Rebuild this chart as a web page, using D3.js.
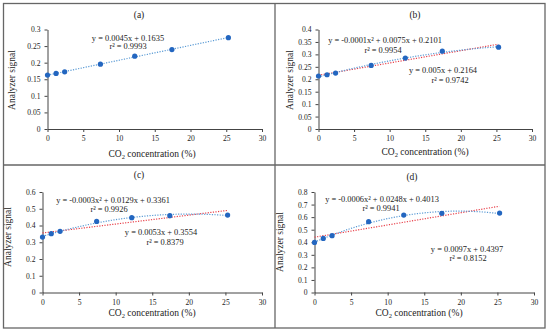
<!DOCTYPE html>
<html>
  <head>
    <meta charset="utf-8" />
    <title>Analyzer signal vs CO2</title>
    <script src="https://d3js.org/d3.v7.min.js"></script>
    <style>
      body { margin: 0; background: #fff; }
      svg text { font-family: "Liberation Serif", "DejaVu Serif", serif; fill: #222; }
    </style>
  </head>
  <body>
    <svg width="550" height="335"></svg>

    <script>
      // Data (CO2 concentration in %, analyzer signal per panel)
      var conc = [0, 1.2, 2.4, 7.4, 12.2, 17.4, 25.3];
      var signalA = [0.1625, 0.1675, 0.1725, 0.1955, 0.2195, 0.2395, 0.2755];
      var signalB = [0.213, 0.218, 0.225, 0.2555, 0.285, 0.313, 0.329];
      var signalC = [0.331, 0.351, 0.365, 0.4245, 0.4465, 0.4585, 0.4625];
      var signalD = [0.399, 0.4305, 0.452, 0.5635, 0.6165, 0.63, 0.6325];

      var xTicks = [0, 5, 10, 15, 20, 25, 30];
      var yTicksA = ["0", "0.05", "0.1", "0.15", "0.2", "0.25", "0.3"];
      var yTicksB = ["0", "0.05", "0.1", "0.15", "0.2", "0.25", "0.3", "0.35", "0.4"];
      var yTicksC = ["0", "0.1", "0.2", "0.3", "0.4", "0.5", "0.6"];
      var yTicksD = ["0", "0.1", "0.2", "0.3", "0.4", "0.5", "0.6", "0.7", "0.8"];

      var titles = ["(a)", "(b)", "(c)", "(d)"];
      var polyLabels = [null,
        ["y = -0.0001x² + 0.0075x + 0.2101", "r² = 0.9954"],
        ["y = -0.0003x² + 0.0129x + 0.3361", "r² = 0.9926"],
        ["y = -0.0006x² + 0.0248x + 0.4013", "r² = 0.9941"]];
      var linLabels = [
        ["y = 0.0045x + 0.1635", "r² = 0.9993"],
        ["y = 0.005x + 0.2164", "r² = 0.9742"],
        ["y = 0.0053x + 0.3554", "r² = 0.8379"],
        ["y = 0.0097x + 0.4397", "r² = 0.8152"]];

      var serif = "'Liberation Serif', 'DejaVu Serif', serif";
      var svg = d3.select("svg");

      // panel frames
      var frame = svg.append("g").attr("fill", "none").attr("stroke", "#666").attr("stroke-width", 1.3);
      frame.append("rect").attr("x", 3.5).attr("y", 3.5).attr("width", 541.5).attr("height", 324.5);
      frame.append("line").attr("x1", 275).attr("x2", 275).attr("y1", 3.5).attr("y2", 328);
      frame.append("line").attr("x1", 3.5).attr("x2", 545).attr("y1", 165).attr("y2", 165);

      // layout per panel
      var panels = [
        { ys: signalA, ticks: yTicksA, left: 47.5, right: 262, top: 29.5, bottom: 129,
          title: [139, 18], xl: [152, 157], yl: [12, 80], lin: [[128, 41], [128, 49]], poly: null },
        { ys: signalB, ticks: yTicksB, left: 318.5, right: 532, top: 29.5, bottom: 129,
          title: [415, 18], xl: [425, 155], yl: [290, 80], lin: [[443, 73], [450, 83]], poly: [[385, 43], [383, 53]] },
        { ys: signalC, ticks: yTicksC, left: 42.5, right: 262, top: 192, bottom: 292.5,
          title: [139, 178], xl: [152, 316], yl: [8, 237], lin: [[161, 235], [165, 245]], poly: [[113, 203], [109, 212]] },
        { ys: signalD, ticks: yTicksD, left: 314.5, right: 534, top: 192, bottom: 292.5,
          title: [412, 180], xl: [419, 316], yl: [280, 242], lin: [[467, 252], [468, 261]], poly: [[382, 202], [381, 211]] }
      ];

      // least squares fit, degree 1 or 2
      function fit(xs, ys, deg) {
        var n = deg + 1, A = [], b = [];
        for (var i = 0; i < n; i++) {
          A.push([]);
          for (var j = 0; j < n; j++) A[i].push(d3.sum(xs, function (x) { return Math.pow(x, i + j); }));
          b.push(d3.sum(xs, function (x, k) { return ys[k] * Math.pow(x, i); }));
        }
        for (var c = 0; c < n; c++) {
          for (var r = c + 1; r < n; r++) {
            var f = A[r][c] / A[c][c];
            for (var k = c; k < n; k++) A[r][k] -= f * A[c][k];
            b[r] -= f * b[c];
          }
        }
        var coef = new Array(n);
        for (var r2 = n - 1; r2 >= 0; r2--) {
          var s = b[r2];
          for (var k2 = r2 + 1; k2 < n; k2++) s -= A[r2][k2] * coef[k2];
          coef[r2] = s / A[r2][r2];
        }
        return function (x) { return d3.sum(coef, function (cf, p) { return cf * Math.pow(x, p); }); };
      }

      panels.forEach(function (p, idx) {
        var x = d3.scaleLinear().domain([0, 30]).range([p.left, p.right]);
        var yMax = +p.ticks[p.ticks.length - 1];
        var y = d3.scaleLinear().domain([0, yMax]).range([p.bottom, p.top]);
        var g = svg.append("g");

        // axes
        var xAxis = g.append("g").attr("transform", "translate(0," + p.bottom + ")")
          .call(d3.axisBottom(x).tickValues(xTicks).tickSize(3).tickSizeOuter(0).tickPadding(4));
        var yAxis = g.append("g").attr("transform", "translate(" + p.left + ",0)")
          .call(d3.axisLeft(y).tickValues(p.ticks.map(Number)).tickFormat(function (d, i) { return p.ticks[i]; })
            .tickSize(3).tickSizeOuter(0).tickPadding(4));
        [xAxis, yAxis].forEach(function (a) {
          a.attr("font-family", serif).attr("font-size", 7.6);
          a.selectAll("path, line").attr("stroke", "#444");
          a.selectAll("text").attr("fill", "#222");
        });

        // trendlines
        var xs = d3.range(0, 25.3 + 0.01, 0.25);
        var line = d3.line().x(function (d) { return x(d[0]); }).y(function (d) { return y(d[1]); });
        var lin = fit(conc, p.ys, 1);
        g.append("path")
          .attr("d", line(xs.map(function (v) { return [v, lin(v)]; })))
          .attr("fill", "none").attr("stroke", idx === 0 ? "#5B9BD5" : "#E8404A")
          .attr("stroke-width", 1.2).attr("stroke-dasharray", "1.2,1.4");
        if (idx > 0) {
          var quad = fit(conc, p.ys, 2);
          g.append("path")
            .attr("d", line(xs.map(function (v) { return [v, quad(v)]; })))
            .attr("fill", "none").attr("stroke", "#5B9BD5")
            .attr("stroke-width", 1.2).attr("stroke-dasharray", "1.2,1.4");
        }

        // points
        g.selectAll(".pt").data(conc).enter().append("circle")
          .attr("cx", function (d) { return x(d); })
          .attr("cy", function (d, i) { return y(p.ys[i]); })
          .attr("r", 2.6).attr("fill", "#2366C0");

        // title
        g.append("text").attr("x", p.title[0]).attr("y", p.title[1]).attr("text-anchor", "middle")
          .attr("font-family", serif).attr("font-size", 9.5).text(titles[idx]);

        // x label with subscript
        var xl = g.append("text").attr("x", p.xl[0]).attr("y", p.xl[1]).attr("text-anchor", "middle")
          .attr("font-family", serif).attr("font-size", 9.5);
        xl.append("tspan").text("CO");
        xl.append("tspan").attr("dy", 2).attr("font-size", 6.5).text("2");
        xl.append("tspan").attr("dy", -2).text(" concentration (%)");

        // y label
        g.append("text").attr("transform", "translate(" + (p.yl[0] + 3) + "," + p.yl[1] + ") rotate(-90)")
          .attr("text-anchor", "middle").attr("font-family", serif).attr("font-size", 9.5).text("Analyzer signal");

        // equation labels
        function eq(lines, pos) {
          lines.forEach(function (t, i) {
            g.append("text").attr("x", pos[i][0]).attr("y", pos[i][1]).attr("text-anchor", "middle")
              .attr("font-family", serif).attr("font-size", 8.4).text(t);
          });
        }
        eq(linLabels[idx], p.lin);
        if (polyLabels[idx]) eq(polyLabels[idx], p.poly);
      });
    </script>
  </body>
</html>
